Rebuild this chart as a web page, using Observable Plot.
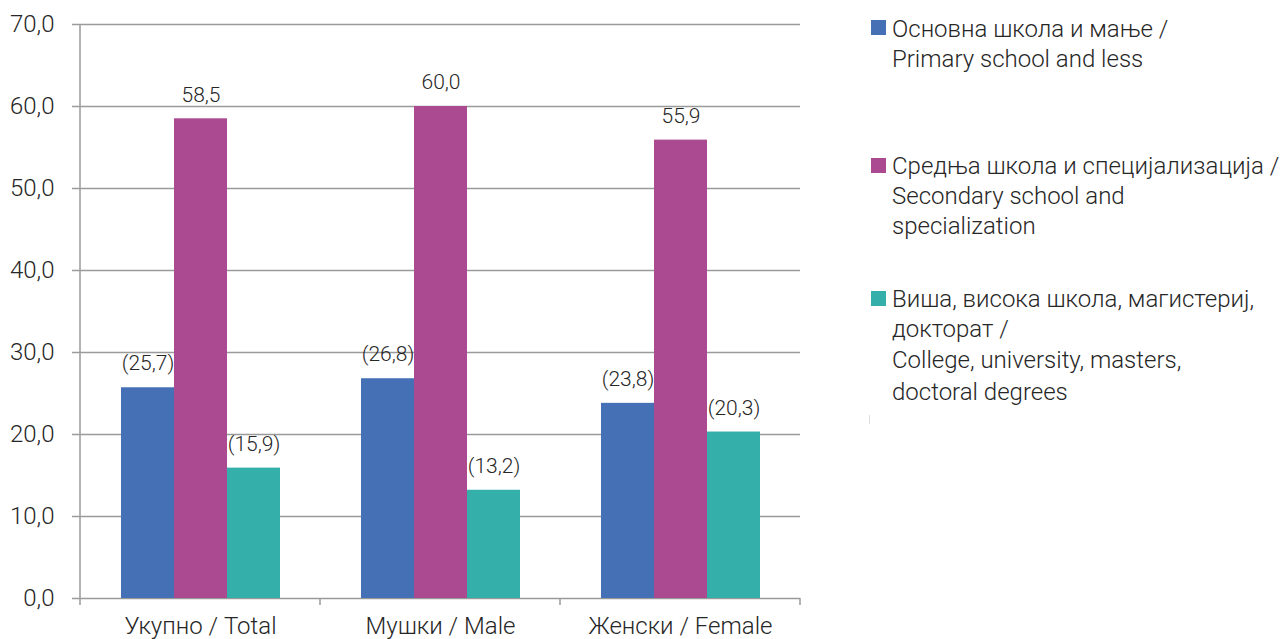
<!DOCTYPE html>
<html>
<head>
<meta charset="utf-8">
<script src="https://cdn.jsdelivr.net/npm/d3@7"></script>
<script src="https://cdn.jsdelivr.net/npm/@observablehq/plot@0.6"></script>
<style>
  html, body { margin: 0; padding: 0; background: #fff; }
  #wrap { position: relative; width: 1281px; height: 639px; font-family: Roboto, "Noto Sans", sans-serif; font-weight: 300; color: #262626; }
  #chart { position: absolute; left: 0; top: 0; }
  .leg { position: absolute; left: 892px; font-size: 24px; line-height: 30px; white-space: nowrap; }
  .sw { position: absolute; left: 871px; width: 15px; height: 15px; }
  #mark { position: absolute; left: 869px; top: 415px; width: 1px; height: 9px; background: #ddd; }
</style>
</head>
<body>
<div id="wrap">
  <div id="chart"></div>
  <div class="sw" id="sw0" style="top:20px"></div>
  <div class="leg" id="leg0" style="top:13.8px"></div>
  <div class="sw" id="sw1" style="top:158px"></div>
  <div class="leg" id="leg1" style="top:150.8px"></div>
  <div class="sw" id="sw2" style="top:291px"></div>
  <div class="leg" id="leg2" style="top:283.8px"></div>
  <div class="leg" id="leg2b" style="top:343.8px; line-height:32px"></div>
  <div id="mark"></div>
</div>
<script>
const groups = ["Укупно / Total", "Мушки / Male", "Женски / Female"];
const seriesKeys = ["primary", "secondary", "higher"];
const seriesColors = ["#4570b6", "#ab4a91", "#34afaa"];
const primaryValues = [25.7, 26.8, 23.8];
const secondaryValues = [58.5, 60.0, 55.9];
const higherValues = [15.9, 13.2, 20.3];
const yTicks = [0, 10, 20, 30, 40, 50, 60, 70];
const legendLines = [
  ["Основна школа и мање /", "Primary school and less"],
  ["Средња школа и специјализација /", "Secondary school and", "specialization"],
  ["Виша, висока школа, магистериј,", "докторат /"]
];
const legendLinesExtra = ["College, university, masters,", "doctoral degrees"];

const fmt = v => v.toFixed(1).replace(".", ",");

const valuesBySeries = { primary: primaryValues, secondary: secondaryValues, higher: higherValues };
const data = [];
groups.forEach((g, i) => {
  seriesKeys.forEach(s => {
    const v = valuesBySeries[s][i];
    data.push({ group: g, series: s, value: v, label: s === "secondary" ? fmt(v) : "(" + fmt(v) + ")" });
  });
});

const gridColor = "#9a9a9a";
const textColor = "#262626";

const plot = Plot.plot({
  width: 820,
  height: 639,
  marginLeft: 80,
  marginRight: 20,
  marginTop: 24,
  marginBottom: 41,
  style: { fontFamily: "Roboto, 'Noto Sans', sans-serif", fontWeight: 300, color: textColor, background: "#fff" },
  fx: { domain: groups, padding: 0 },
  x: { domain: seriesKeys, paddingInner: 0, paddingOuter: 0.75, axis: null },
  y: { domain: [0, 70] },
  color: { domain: seriesKeys, range: seriesColors },
  marks: [
    Plot.ruleY(yTicks, { stroke: gridColor, strokeWidth: 1.5 }),
    Plot.axisY({ ticks: yTicks, tickFormat: fmt, tickSize: 8, tickPadding: 18, fontSize: 24, stroke: gridColor, strokeWidth: 1.5, strokeOpacity: 1, label: null, fill: textColor }),
    Plot.axisFx({ anchor: "bottom", tickSize: 0, tickPadding: 18, fontSize: 24, label: null, fill: textColor }),
    Plot.barY(data, { fx: "group", x: "series", y: "value", fill: "series" }),
    Plot.text(data, { fx: "group", x: "series", y: "value", text: "label", dy: -24, fontSize: 21, fill: textColor })
  ]
});

// axis line and group boundary ticks drawn from the plot's own scales
const fxs = plot.scale("fx");
const ys = plot.scale("y");
const svg = d3.select(plot);
const y0 = ys.apply(0), yTop = ys.apply(70);
const edges = groups.map(g => fxs.apply(g));
edges.push(fxs.apply(groups[groups.length - 1]) + fxs.bandwidth);
const axisG = svg.append("g").attr("stroke", gridColor).attr("stroke-width", 1.5);
axisG.append("line").attr("x1", edges[0]).attr("x2", edges[0]).attr("y1", yTop).attr("y2", y0 + 7);
edges.slice(1).forEach(x => {
  axisG.append("line").attr("x1", x).attr("x2", x).attr("y1", y0).attr("y2", y0 + 7);
});

document.getElementById("chart").appendChild(plot);

seriesKeys.forEach((s, i) => {
  document.getElementById("sw" + i).style.background = seriesColors[i];
  document.getElementById("leg" + i).innerHTML = legendLines[i].join("<br>");
});
document.getElementById("leg2b").innerHTML = legendLinesExtra.join("<br>");
</script>
</body>
</html>
